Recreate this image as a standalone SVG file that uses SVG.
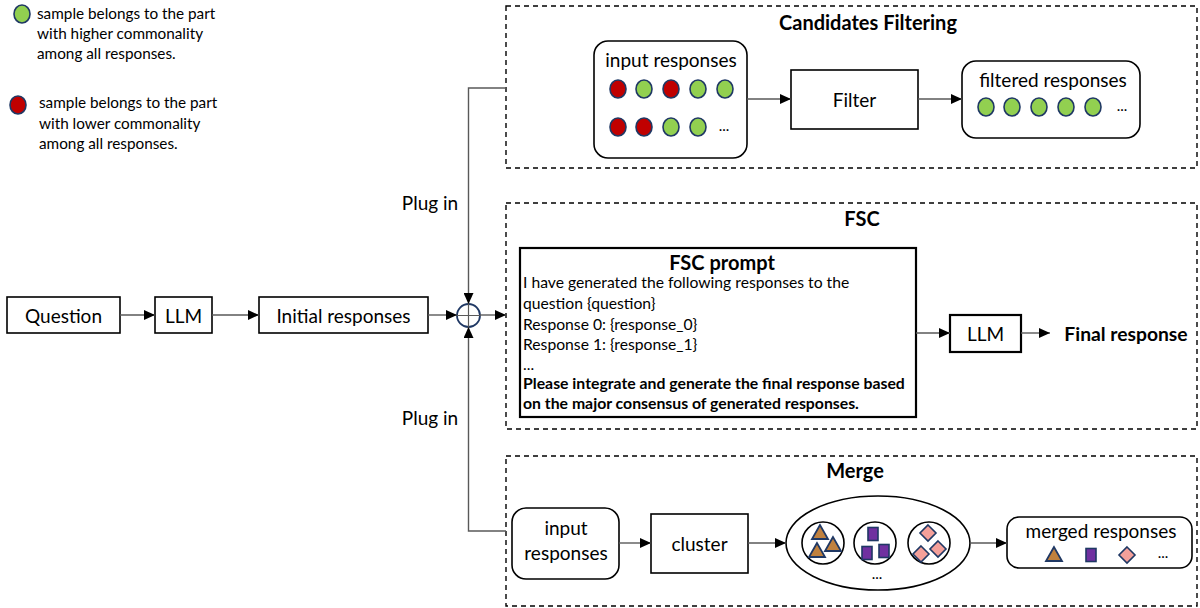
<svg xmlns="http://www.w3.org/2000/svg" xmlns:xlink="http://www.w3.org/1999/xlink" width="1200" height="608" viewBox="0 0 1200 608">
<style>
text{font-family:Lato,"Liberation Sans",sans-serif;fill:#000}
.lbl{font-size:19px;text-anchor:middle;dominant-baseline:central}
.ttl{font-size:20px;font-weight:bold;text-anchor:middle;dominant-baseline:central}
.fin{font-size:19.3px;font-weight:bold;text-anchor:middle;dominant-baseline:central}
.leg{font-size:15.3px}
.pr{font-size:15.7px}
.prb{font-size:15.8px;font-weight:bold}
.box{fill:#fff;stroke:#000;stroke-width:1.6}
.tbox{fill:#fff;stroke:#000;stroke-width:2.2}
.dash{fill:none;stroke:#000;stroke-width:1.4;stroke-dasharray:5 4}
.conn{fill:none;stroke:#595959;stroke-width:1.4}
.g{fill:#92D050;stroke:#1F3864;stroke-width:1.6}
.r{fill:#C00000;stroke:#1F3864;stroke-width:1.6}
.tri{fill:#C0813E;stroke:#1F3864;stroke-width:1.8}
.sq{fill:#7030A0;stroke:#1F3864;stroke-width:1.6}
.dia{fill:#F4A09A;stroke:#1F3864;stroke-width:1.6}
.dots{font-size:15px;text-anchor:middle}
</style>
<defs>
<marker id="ah" markerUnits="userSpaceOnUse" markerWidth="11" markerHeight="10" refX="11" refY="5" orient="auto">
<path d="M0,0 L11,5 L0,10 z" fill="#000"/>
</marker>
<polygon id="tri" class="tri" points="0,-8 -8,6 8,6"/>
<rect id="sq" class="sq" x="-5" y="-6.5" width="10" height="13"/>
<polygon id="dia" class="dia" points="0,-8 8,0 0,8 -8,0"/>
<ellipse id="gc" class="g" rx="8" ry="9"/>
<ellipse id="rc" class="r" rx="8" ry="9"/>
</defs>

<g id="legend">
<use href="#gc" x="22" y="14"/>
<text class="leg" x="37" y="19">sample belongs to the part</text>
<text class="leg" x="37" y="39">with higher commonality</text>
<text class="leg" x="37" y="59">among all responses.</text>
<use href="#rc" x="18" y="105"/>
<text class="leg" x="39" y="108">sample belongs to the part</text>
<text class="leg" x="39" y="129">with lower commonality</text>
<text class="leg" x="39" y="149">among all responses.</text>
</g>

<g id="question"><rect class="box" x="7" y="297" width="113" height="36"/><text class="lbl" x="63.5" y="315">Question</text></g>
<g id="llm1"><rect class="box" x="155" y="297" width="57" height="36"/><text class="lbl" x="183.5" y="315">LLM</text></g>
<g id="initial"><rect class="box" x="259" y="297" width="169" height="36"/><text class="lbl" x="343.5" y="315">Initial responses</text></g>
<g id="junction">
<circle cx="468.5" cy="315.5" r="11.5" fill="#fff" stroke="#1F3864" stroke-width="1.8"/>
<path d="M457,315.5 H480 M468.5,304 V327" stroke="#595959" stroke-width="1.2"/>
</g>
<text class="lbl" x="430" y="202">Plug in</text>
<text class="lbl" x="430" y="417">Plug in</text>

<g id="candidates-filtering">
<rect class="dash" x="506" y="6" width="691" height="162"/>
<text class="ttl" x="868" y="22">Candidates Filtering</text>
<g id="cf-input">
<rect class="box" x="594" y="41" width="153" height="117" rx="14"/>
<text class="lbl" x="671" y="59">input responses</text>
<use href="#rc" x="618" y="89"/><use href="#gc" x="644" y="89"/><use href="#rc" x="671" y="89"/><use href="#gc" x="698" y="89"/><use href="#gc" x="725" y="89"/>
<use href="#rc" x="618" y="127"/><use href="#rc" x="644" y="127"/><use href="#gc" x="671" y="127"/><use href="#gc" x="698" y="127"/>
<text class="dots" x="724" y="131">...</text>
</g>
<g id="filter"><rect class="box" x="791" y="70" width="127" height="59"/><text class="lbl" x="854.5" y="99">Filter</text></g>
<g id="filtered">
<rect class="box" x="962" y="61" width="178" height="77" rx="14"/>
<text class="lbl" x="1053" y="79">filtered responses</text>
<use href="#gc" x="986" y="107"/><use href="#gc" x="1012" y="107"/><use href="#gc" x="1039" y="107"/><use href="#gc" x="1066" y="107"/><use href="#gc" x="1093" y="107"/>
<text class="dots" x="1122" y="111">...</text>
</g>
</g>

<g id="fsc">
<rect class="dash" x="506" y="203" width="691" height="226"/>
<text class="ttl" x="862" y="218">FSC</text>
<g id="fsc-prompt">
<rect class="tbox" x="520" y="248" width="396" height="169"/>
<text class="ttl" x="722" y="262">FSC prompt</text>
<text class="pr" x="523" y="288">I have generated the following responses to the</text>
<text class="pr" x="523" y="309">question {question}</text>
<text class="pr" x="523" y="330">Response 0: {response_0}</text>
<text class="pr" x="523" y="350">Response 1: {response_1}</text>
<text class="pr" x="523" y="370">...</text>
<text class="prb" x="523" y="389">Please integrate and generate the final response based</text>
<text class="prb" x="523" y="409">on the major consensus of generated responses.</text>
</g>
<g id="llm2"><rect class="tbox" x="950" y="315" width="71" height="37"/><text class="lbl" x="985.5" y="333">LLM</text></g>
<g id="final"><text class="fin" x="1126" y="333">Final response</text></g>
</g>

<g id="merge">
<rect class="dash" x="506" y="456" width="691" height="150"/>
<text class="ttl" x="855" y="470">Merge</text>
<g id="m-input">
<rect class="box" x="512" y="508" width="107" height="71" rx="14"/>
<text class="lbl" x="566" y="527">input</text>
<text class="lbl" x="566" y="552">responses</text>
</g>
<g id="cluster"><rect class="box" x="651" y="514" width="97" height="59"/><text class="lbl" x="699.5" y="543">cluster</text></g>
<g id="clusters">
<ellipse class="box" cx="878" cy="543" rx="92" ry="47"/>
<circle class="box" cx="823" cy="543" r="21"/>
<circle class="box" cx="875" cy="543" r="21"/>
<circle class="box" cx="929" cy="543" r="21"/>
<use href="#tri" x="820" y="533"/><use href="#tri" x="817" y="551"/><use href="#tri" x="833" y="545"/>
<use href="#sq" x="873" y="534"/><use href="#sq" x="867" y="553"/><use href="#sq" x="884" y="551"/>
<use href="#dia" x="928" y="533"/><use href="#dia" x="921" y="554"/><use href="#dia" x="938" y="549"/>
<text class="dots" x="877" y="579">...</text>
</g>
<g id="merged">
<rect class="box" x="1007" y="517" width="185" height="51" rx="12"/>
<text class="lbl" x="1101" y="530">merged responses</text>
<use href="#tri" x="1054" y="555"/><use href="#sq" x="1091" y="555"/><use href="#dia" x="1127" y="555"/>
<text class="dots" x="1163" y="558">...</text>
</g>
</g>

<g id="connectors">
<path class="conn" d="M120,315 H155" marker-end="url(#ah)"/>
<path class="conn" d="M212,315 H259" marker-end="url(#ah)"/>
<path class="conn" d="M428,315 H457" marker-end="url(#ah)"/>
<path class="conn" d="M506,88 H468.5 V304" marker-end="url(#ah)"/>
<path class="conn" d="M506,531 H468.5 V327" marker-end="url(#ah)"/>
<path class="conn" d="M480,315 H506" marker-end="url(#ah)"/>
<path class="conn" d="M747,99 H791" marker-end="url(#ah)"/>
<path class="conn" d="M918,99 H962" marker-end="url(#ah)"/>
<path class="conn" d="M916,333 H950" marker-end="url(#ah)"/>
<path class="conn" d="M1021,333 H1050" marker-end="url(#ah)"/>
<path class="conn" d="M619,543 H651" marker-end="url(#ah)"/>
<path class="conn" d="M748,543 H786" marker-end="url(#ah)"/>
<path class="conn" d="M970,543 H1007" marker-end="url(#ah)"/>
</g>
</svg>
